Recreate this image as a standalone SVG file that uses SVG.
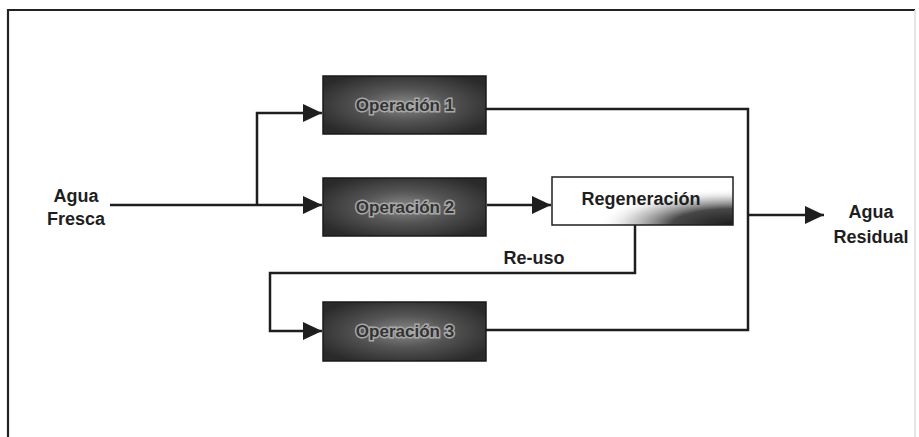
<svg xmlns="http://www.w3.org/2000/svg" width="919" height="437" viewBox="0 0 919 437">
<style>
.ln{fill:none;stroke:#1e1e1e;stroke-width:2.5;stroke-linejoin:miter}
.op{fill:url(#opg);stroke:#1a1a1a;stroke-width:1.5}
.opt{font-family:"Liberation Sans",Arial,sans-serif;font-size:17px;font-weight:bold;fill:#333;stroke:#a8a8a8;stroke-width:3;paint-order:stroke;text-anchor:middle}
.lbl{font-family:"Liberation Sans",Arial,sans-serif;font-size:18px;font-weight:bold;fill:#1e1e1e;text-anchor:middle}
</style>
<defs>
<radialGradient id="opg" cx="0.5" cy="0.5" r="0.6">
<stop offset="0" stop-color="#8a8a8a"/>
<stop offset="0.45" stop-color="#555"/>
<stop offset="1" stop-color="#2a2a2a"/>
</radialGradient>
<radialGradient id="rg" cx="1" cy="1" r="0.75">
<stop offset="0" stop-color="#1a1a1a" stop-opacity="1"/>
<stop offset="0.45" stop-color="#333" stop-opacity="0.9"/>
<stop offset="0.75" stop-color="#777" stop-opacity="0.35"/>
<stop offset="1" stop-color="#fff" stop-opacity="0"/>
</radialGradient>
<marker id="ah" markerUnits="userSpaceOnUse" markerWidth="19" markerHeight="18" refX="19" refY="9" orient="auto">
<path d="M0,0 L19,9 L0,18 z" fill="#1e1e1e"/>
</marker>
</defs>
<rect x="0" y="0" width="919" height="437" fill="#fff"/>
<path d="M8,437 V10 H915" fill="none" stroke="#222" stroke-width="2.2"/>
<path d="M915,10 V437" fill="none" stroke="#ddd" stroke-width="1.5"/>
<g id="connectors">
<path class="ln" d="M110,205 H322" marker-end="url(#ah)"/>
<path class="ln" d="M257,205 V113 H322" marker-end="url(#ah)"/>
<path class="ln" d="M487,205 H551" marker-end="url(#ah)"/>
<path class="ln" d="M486,109 H748 V330 H486"/>
<path class="ln" d="M748,215 H824" marker-end="url(#ah)"/>
<path class="ln" d="M635,225 V273 H270 V331 H322" marker-end="url(#ah)"/>
</g>
<g id="agua-fresca">
<text class="lbl" x="76" y="202">Agua</text>
<text class="lbl" x="76" y="225">Fresca</text>
</g>
<g id="operacion1">
<rect class="op" x="323" y="76" width="163" height="58"/>
<text class="opt" x="405" y="111">Operación 1</text>
</g>
<g id="operacion2">
<rect class="op" x="323" y="178" width="163" height="58"/>
<text class="opt" x="405" y="213">Operación 2</text>
</g>
<g id="operacion3">
<rect class="op" x="323" y="302" width="163" height="59"/>
<text class="opt" x="405" y="337">Operación 3</text>
</g>
<g id="regeneracion">
<rect x="552" y="177" width="181" height="48" fill="#fff"/>
<rect x="552" y="177" width="181" height="48" fill="url(#rg)" stroke="#1e1e1e" stroke-width="1.5"/>
<text class="lbl" x="641" y="205">Regeneración</text>
</g>
<g id="reuso">
<text class="lbl" x="534" y="264">Re-uso</text>
</g>
<g id="agua-residual">
<text class="lbl" x="871" y="218">Agua</text>
<text class="lbl" x="871" y="243">Residual</text>
</g>
</svg>
